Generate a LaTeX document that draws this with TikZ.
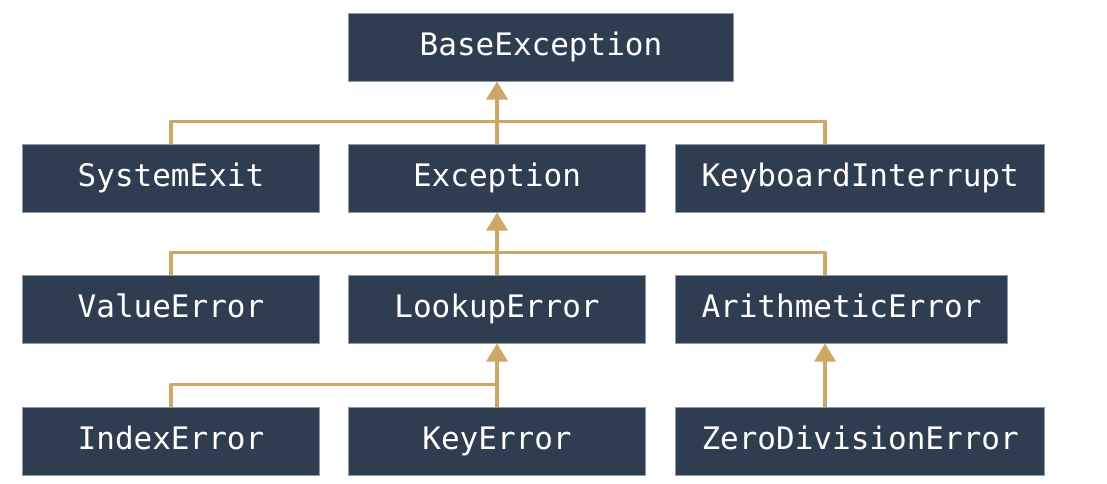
\documentclass[tikz,border=0pt]{standalone}
\usepackage{fontspec}
\setmonofont{DejaVu Sans Mono}
\usetikzlibrary{arrows.meta,positioning}
\definecolor{BoxNavy}{HTML}{2E3E50}
\definecolor{BoxEdge}{HTML}{8D99A6}
\definecolor{LinkGold}{HTML}{CDA766}

\begin{document}
\begin{tikzpicture}[x=0.5pt,y=-0.5pt,line join=round,
    box/.style={fill=BoxNavy,draw=BoxEdge,line width=0.5pt,text=white,
      font=\ttfamily\fontsize{15.5}{18}\selectfont,anchor=west,
      text height=0.88em,text depth=0pt,
      minimum width=148.5pt,minimum height=34pt,inner xsep=13pt},
    link/.style={draw=LinkGold,line width=1.7pt},
    up/.style={link,-{Triangle[length=9pt,width=10.5pt]}}]
  \useasboundingbox (0,0) rectangle (1107,483);
  \coordinate (c3) at (825,0);

  % the classes
  \node[box,minimum width=192.5pt] (base) at (348,47) {BaseException};
  \node[box] (sysexit) at (22,178)  {SystemExit};
  \node[box] (exc)     at (348,178) {Exception};
  \node[box] (kbint)   at (675,178) {KeyboardInterrupt};
  \node[box] (valerr)  at (22,309)  {ValueError};
  \node[box] (lookup)  at (348,309) {LookupError};
  \node[box] (arith)   at (675,309) {ArithmeticError};
  \node[box] (idxerr)  at (22,441)  {IndexError};
  \node[box] (keyerr)  at (348,441) {KeyError};
  \node[box] (zerodiv) at (675,441) {ZeroDivisionError};

  % inheritance
  \draw[link] (sysexit.north) -- ++(0,-22) -| (c3 |- kbint.north);
  \draw[up] (exc.north) -- (exc.north |- base.south);
  \draw[link] (valerr.north) -- ++(0,-22) -| (c3 |- arith.north);
  \draw[up] (lookup.north) -- (lookup.north |- exc.south);
  \draw[link] (idxerr.north) -- ++(0,-22) -| (keyerr.north);
  \draw[up] (keyerr.north) -- (keyerr.north |- lookup.south);
  \draw[up] (c3 |- zerodiv.north) -- (c3 |- arith.south);
\end{tikzpicture}
\end{document}
